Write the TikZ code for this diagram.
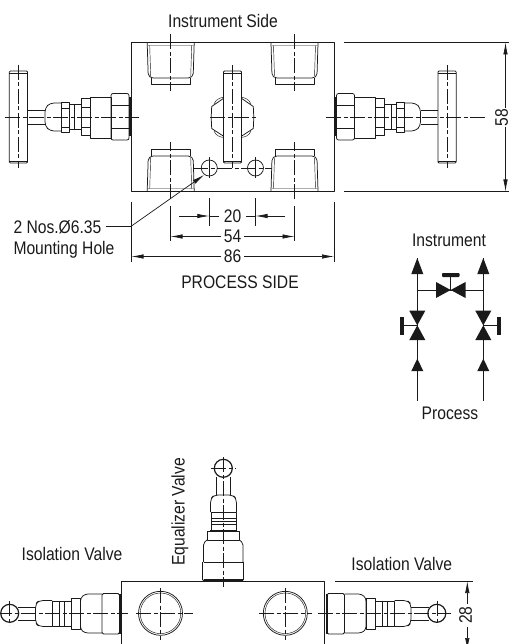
\documentclass[tikz,border=0pt]{standalone}
\usepackage{fontspec}
\setmainfont[FakeStretch=0.86]{Liberation Sans}
\usetikzlibrary{arrows.meta}
\definecolor{ink}{HTML}{1A1A1A}
\tikzset{
  part/.style={draw=ink,line width=0.75pt,line join=round},
  thin part/.style={draw=ink,line width=0.45pt},
  centre/.style={draw=ink,line width=0.65pt,dash pattern=on 15pt off 2.5pt on 4pt off 2.5pt},
  dimline/.style={draw=ink,line width=0.7pt},
  dimtip/.style={draw=ink,line width=0.7pt,-{Latex[length=12pt,width=4.5pt]}},
  label/.style={text=ink,font=\fontsize{18.2}{20}\selectfont,inner sep=0pt,outer sep=2.5pt,anchor=center},
}
% side needle valve in the plan view, handle at left
\newcommand{\planvalve}{%
  \draw[part,rounded corners=1pt] (9.3,71) rectangle (27.5,163);
  \draw[thin part] (9.3,73.5) -- (27.5,73.5) (9.3,161) -- (27.5,161);
  \draw[part] (27.5,110) -- (45,110) (27.5,124.5) -- (45,124.5);
  \draw[part,rounded corners=4pt] (61.5,103) -- (50,103) -- (45,108) -- (45,126) -- (50,131) -- (61.5,131);
  \draw[part] (61.5,102.5) rectangle (69,132.5);
  \draw[thin part] (61.5,108) -- (69,108) (61.5,127) -- (69,127);
  \draw[part] (69,104.5) rectangle (81.5,129.5);
  \draw[part] (74,104.5) -- (74,129.5);
  \draw[part] (81.5,98) rectangle (90,135);
  \draw[thin part] (81.5,107) -- (90,107) (81.5,127) -- (90,127);
  \draw[part] (90,97) rectangle (111,138);
  \draw[part,rounded corners=2pt] (111,93.5) rectangle (129,140);
  \draw[thin part] (111,105) -- (129,105) (111,128.5) -- (129,128.5);
  \fill[ink] (129,97) rectangle (130.5,136);
  \draw[centre] (18.3,65) -- (18.3,168);
}
% threaded port of the plan view, opening upward at y=0
\newcommand{\planport}{%
  \draw[part,rounded corners=2pt] (-23.5,0.5) -- (-22.5,33) -- (-19.5,35.5) -- (19.5,35.5) -- (22.5,33) -- (23.5,0.5);
  \draw[thin part] (-21,3) -- (-20,34) (21,3) -- (20,34) (-23,3) -- (23,3);
  \draw[part] (-19.5,35.5) -- (-19.5,42) -- (19.5,42) -- (19.5,35.5);
  \draw[centre] (0,-8) -- (0,49);
}
% valve of the front view, handle at left
\newcommand{\frontvalve}{%
  \draw[part,line width=1.2pt] (9.7,613.3) circle (9);
  \draw[part] (18,607) -- (36,607) (18,620.5) -- (36,620.5);
  \draw[part,rounded corners=4pt] (52,600.5) -- (39,600.5) -- (35.5,604) -- (35.5,623) -- (39,626.5) -- (52,626.5);
  \draw[part] (52,601) rectangle (71.5,626);
  \draw[part] (59,601) -- (59,626) (64,601) -- (64,626);
  \draw[part] (71.5,598) rectangle (80.5,629.5);
  \draw[part,rounded corners=3pt] (102,594) -- (85,594) -- (80.5,598) -- (80.5,629.5) -- (85,633) -- (102,633);
  \draw[part,rounded corners=1.5pt] (102,593.5) rectangle (119.5,634);
  \fill[ink] (119,594) rectangle (121,634);
}
\newcommand{\schemflow}[3]{\fill[ink] (#1,#2) -- (#1-6,#3) -- (#1+6,#3) -- cycle;}
\begin{document}
\begin{tikzpicture}[x=1pt,y=-1pt]
\useasboundingbox (0,0) rectangle (509,644);
\clip (0,0) rectangle (509,644);

%%% PLAN VIEW
\coordinate (bodyTL) at (131.5,42.5);
\coordinate (bodyBR) at (334,191.5);
\draw[part] (bodyTL) rectangle (bodyBR);
\draw[part] (344,42.5) -- (509,42.5) (344,191.5) -- (509,191.5);

\begin{scope}[shift={(170.7,42.5)}]\planport\end{scope}
\begin{scope}[shift={(294.5,42.5)}]\planport\end{scope}
\begin{scope}[shift={(170.7,191.5)},yscale=-1]\planport\end{scope}
\begin{scope}[shift={(294.5,191.5)},yscale=-1]\planport\end{scope}

\planvalve
\begin{scope}[shift={(465.5,0)},xscale=-1]\planvalve\end{scope}
\draw[centre] (5,117.5) -- (139,117.5);
\draw[centre] (326,117.5) -- (486,117.5);

% centre valve
\draw[part] (224,98) -- (211.7,106.5) -- (211.2,117.5) -- (211.7,128.5) -- (224,136.5);
\draw[part] (241,98) -- (253.3,106.5) -- (253.8,117.5) -- (253.3,128.5) -- (241,136.5);
\draw[thin part] (214,104) .. controls (216,99) and (220,98) .. (224,97);
\draw[thin part] (214,131) .. controls (216,136) and (220,137) .. (224,137.5);
\draw[thin part] (251,104) .. controls (249,99) and (245,98) .. (241,97);
\draw[thin part] (251,131) .. controls (249,136) and (245,137) .. (241,137.5);
\draw[part,fill=white,rounded corners=1pt] (223.5,71) rectangle (241.5,163);
\draw[thin part] (223.5,73.5) -- (241.5,73.5) (223.5,161) -- (241.5,161);
\draw[centre] (232.5,65) -- (232.5,168);
\draw[centre] (210,117.5) -- (256,117.5);

% mounting holes
\draw[part] (209.3,168) circle (8);
\draw[part] (255.5,168) circle (8);
\draw[centre] (193,168) -- (272,168);
\draw[dimline] (209.3,157) -- (209.3,178);
\draw[dimline] (255.5,157) -- (255.5,178);
\draw[dimline] (209.3,198) -- (209.3,226);
\draw[dimline] (255.5,198) -- (255.5,226);

% extension lines
\draw[dimline] (131.5,202) -- (131.5,262);
\draw[dimline] (334,202) -- (334,262);
\draw[dimline] (170.5,206) -- (170.5,241);
\draw[dimline] (294.5,206) -- (294.5,241);

% dimensions
\node[label] (t20) at (232.7,216.5) {20};
\node[label] (t54) at (232.7,236.5) {54};
\node[label] (t86) at (232.7,256.5) {86};
\coordinate (d20l) at (209.3,216);
\coordinate (d20r) at (255.5,216);
\coordinate (d54l) at (170.5,236.5);
\coordinate (d54r) at (294.5,236.5);
\coordinate (d86l) at (131.5,256.5);
\coordinate (d86r) at (334,256.5);
\draw[dimtip] (179,216) -- (d20l);
\draw[dimline] (d20l) -- (219,216);
\draw[dimline] (246,216) -- (d20r);
\draw[dimtip] (285,216) -- (d20r);
\draw[dimtip] (t54.west) -- (d54l);
\draw[dimtip] (t54.east) -- (d54r);
\draw[dimtip] (t86.west) -- (d86l);
\draw[dimtip] (t86.east) -- (d86r);

\node[label,rotate=90] (t58) at (501.5,117.5) {58};
\coordinate (d58t) at (505.5,42.5);
\coordinate (d58b) at (505.5,191.5);
\draw[dimtip] (505.5,108) -- (d58t);
\draw[dimtip] (505.5,127) -- (d58b);

% labels
\node[label] (instside) at (223,21) {Instrument Side};
\node[label,anchor=west] (nos) at (11,227.5) {2 Nos.Ø6.35};
\node[label,anchor=west] (mount) at (11,250) {Mounting Hole};
\node[label] (procside) at (240,282) {PROCESS SIDE};
\coordinate (lead) at (131.5,226);
\coordinate (holetip) at (204,175);
\draw[dimline] (106,226) -- (lead);
\draw[dimtip] (lead) -- (holetip);

%%% SCHEMATIC
\node[label] (tinst) at (449,240.7) {Instrument};
\node[label] (tproc) at (450,413) {Process};
\draw[part] (417.3,258) -- (417.3,400.5);
\draw[part] (483.3,258) -- (483.3,400.5);
\draw[part] (417.3,290) -- (483.3,290);
\schemflow{417.3}{258}{274}
\schemflow{483.3}{258}{274}
\schemflow{417.3}{358.7}{371}
\schemflow{483.3}{358.7}{371}
% equalizer
\fill[ink] (450.7,290) -- (436,282) -- (436,298) -- cycle;
\fill[ink] (450.7,290) -- (465.5,282) -- (465.5,298) -- cycle;
\draw[part] (450.7,290) -- (450.7,275);
\fill[ink,rounded corners=0.8pt] (442,273) rectangle (459.5,277);
% isolation
\fill[ink] (417.3,325.3) -- (409.3,310.7) -- (425.3,310.7) -- cycle;
\fill[ink] (417.3,325.3) -- (409.3,340) -- (425.3,340) -- cycle;
\fill[ink] (483.3,325.3) -- (475.3,310.7) -- (491.3,310.7) -- cycle;
\fill[ink] (483.3,325.3) -- (475.3,340) -- (491.3,340) -- cycle;
\draw[part] (417.3,325.3) -- (402,325.3);
\draw[part] (483.3,325.3) -- (498,325.3);
\fill[ink] (400,317) rectangle (404,334.5);
\fill[ink] (497,317) rectangle (501,334.5);

%%% FRONT VIEW
\draw[part] (121.3,650) -- (121.3,581) -- (324,581) -- (324,650);
\draw[part] (335,581) -- (472.7,581);
\draw[part] (160.5,613.3) circle (22);
\draw[thin part] (160.5,613.3) circle (20.3);
\draw[part] (285.3,613.3) circle (22);
\draw[thin part] (285.3,613.3) circle (20.3);
\draw[centre] (160.5,588) -- (160.5,640);
\draw[centre] (285.3,588) -- (285.3,640);
\draw[centre] (-3,613.3) -- (128,613.3);
\draw[centre] (136,613.3) -- (193,613.3);
\draw[centre] (259,613.3) -- (312,613.3);
\draw[centre] (318,613.3) -- (451,613.3);
\draw[centre] (9.7,601) -- (9.7,625);
\draw[centre] (437,601) -- (437,625);

\frontvalve
\begin{scope}[shift={(446.5,0)},xscale=-1]\frontvalve\end{scope}

% equalizer valve
\draw[part,line width=1.2pt] (223.3,468.3) circle (9);
\draw[part] (216.5,477) -- (216.5,495) (230.5,477) -- (230.5,495);
\draw[part,rounded corners=4pt] (210.5,512) -- (210.5,499) -- (214,495) -- (233,495) -- (236.5,499) -- (236.5,512);
\draw[part] (211,512) rectangle (236,531);
\draw[part] (211,518) -- (236,518) (211,521) -- (236,521);
\draw[part] (211,524) -- (236,524);
\fill[ink] (210,530) rectangle (237,531.5);
\draw[part] (207.3,531.5) rectangle (239.3,540);
\draw[part,rounded corners=2pt] (207,540) -- (203.5,543) -- (203.5,562) (243,562) -- (243,543) -- (239.5,540);
\draw[part] (203.5,562) -- (243,562);
\draw[part,rounded corners=1.5pt] (202.5,562) -- (202.5,581) -- (243.5,581) -- (243.5,562);
\fill[ink] (203.5,579) rectangle (242.5,581.5);
\draw[centre] (223.3,457) -- (223.3,587);
\draw[centre] (211,468.3) -- (236,468.3);

% labels
\node[label] (isoL) at (72,554.3) {Isolation Valve};
\node[label] (isoR) at (401.8,564.3) {Isolation Valve};
\node[label,rotate=90] (eqv) at (180,512) {Equalizer Valve};
\node[label,rotate=90] (t28) at (465.5,615) {28};
\coordinate (d28t) at (467.3,581);
\coordinate (d28b) at (467.3,650);
\draw[dimtip] (467.3,604) -- (d28t);
\draw[dimtip] (467.3,627) -- (d28b);
\end{tikzpicture}
\end{document}
